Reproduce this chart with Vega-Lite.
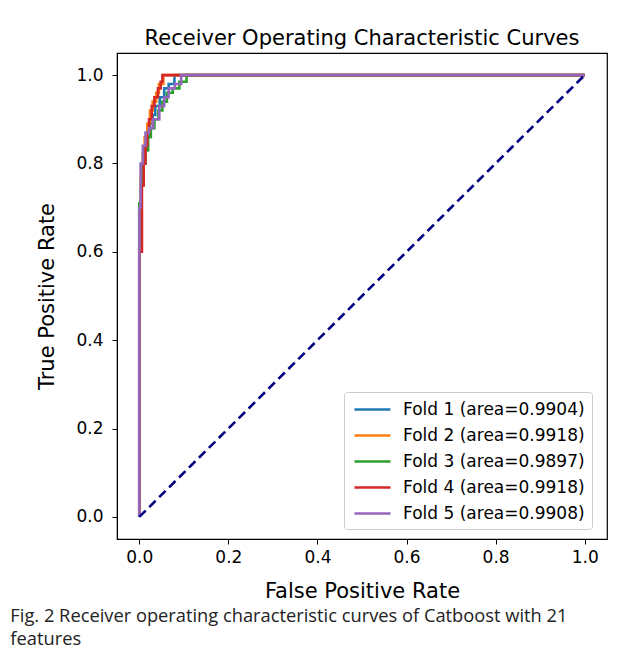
{
  "$schema": "https://vega.github.io/schema/vega-lite/v6.json",
  "background": "white",
  "padding": {"left": 10, "top": 27, "right": 10, "bottom": 10},
  "title": {
    "text": ["Fig. 2  Receiver operating characteristic curves of Catboost with 21", "features"],
    "orient": "bottom",
    "anchor": "start",
    "frame": "bounds",
    "dx": -26,
    "offset": 6,
    "font": "Open Sans",
    "fontSize": 18.3,
    "fontWeight": "normal",
    "color": "#222",
    "lineHeight": 23
  },
  "datasets": {
    "roc": [
      {"fold": "Fold 1 (area=0.9904)", "i": 0, "fpr": 0, "tpr": 0},
      {"fold": "Fold 1 (area=0.9904)", "i": 1, "fpr": 0, "tpr": 0.70},
      {"fold": "Fold 1 (area=0.9904)", "i": 2, "fpr": 0.004, "tpr": 0.70},
      {"fold": "Fold 1 (area=0.9904)", "i": 3, "fpr": 0.004, "tpr": 0.76},
      {"fold": "Fold 1 (area=0.9904)", "i": 4, "fpr": 0.008, "tpr": 0.76},
      {"fold": "Fold 1 (area=0.9904)", "i": 5, "fpr": 0.008, "tpr": 0.80},
      {"fold": "Fold 1 (area=0.9904)", "i": 6, "fpr": 0.012, "tpr": 0.80},
      {"fold": "Fold 1 (area=0.9904)", "i": 7, "fpr": 0.012, "tpr": 0.83},
      {"fold": "Fold 1 (area=0.9904)", "i": 8, "fpr": 0.018, "tpr": 0.83},
      {"fold": "Fold 1 (area=0.9904)", "i": 9, "fpr": 0.018, "tpr": 0.86},
      {"fold": "Fold 1 (area=0.9904)", "i": 10, "fpr": 0.024, "tpr": 0.86},
      {"fold": "Fold 1 (area=0.9904)", "i": 11, "fpr": 0.024, "tpr": 0.89},
      {"fold": "Fold 1 (area=0.9904)", "i": 12, "fpr": 0.030, "tpr": 0.89},
      {"fold": "Fold 1 (area=0.9904)", "i": 13, "fpr": 0.030, "tpr": 0.91},
      {"fold": "Fold 1 (area=0.9904)", "i": 14, "fpr": 0.036, "tpr": 0.91},
      {"fold": "Fold 1 (area=0.9904)", "i": 15, "fpr": 0.036, "tpr": 0.93},
      {"fold": "Fold 1 (area=0.9904)", "i": 16, "fpr": 0.046, "tpr": 0.93},
      {"fold": "Fold 1 (area=0.9904)", "i": 17, "fpr": 0.046, "tpr": 0.95},
      {"fold": "Fold 1 (area=0.9904)", "i": 18, "fpr": 0.056, "tpr": 0.95},
      {"fold": "Fold 1 (area=0.9904)", "i": 19, "fpr": 0.056, "tpr": 0.97},
      {"fold": "Fold 1 (area=0.9904)", "i": 20, "fpr": 0.066, "tpr": 0.97},
      {"fold": "Fold 1 (area=0.9904)", "i": 21, "fpr": 0.066, "tpr": 0.98},
      {"fold": "Fold 1 (area=0.9904)", "i": 22, "fpr": 0.079, "tpr": 0.98},
      {"fold": "Fold 1 (area=0.9904)", "i": 23, "fpr": 0.079, "tpr": 1.0},
      {"fold": "Fold 1 (area=0.9904)", "i": 24, "fpr": 1.0, "tpr": 1.0},

      {"fold": "Fold 2 (area=0.9918)", "i": 0, "fpr": 0, "tpr": 0},
      {"fold": "Fold 2 (area=0.9918)", "i": 1, "fpr": 0, "tpr": 0.70},
      {"fold": "Fold 2 (area=0.9918)", "i": 2, "fpr": 0.004, "tpr": 0.70},
      {"fold": "Fold 2 (area=0.9918)", "i": 3, "fpr": 0.004, "tpr": 0.78},
      {"fold": "Fold 2 (area=0.9918)", "i": 4, "fpr": 0.008, "tpr": 0.78},
      {"fold": "Fold 2 (area=0.9918)", "i": 5, "fpr": 0.008, "tpr": 0.82},
      {"fold": "Fold 2 (area=0.9918)", "i": 6, "fpr": 0.012, "tpr": 0.82},
      {"fold": "Fold 2 (area=0.9918)", "i": 7, "fpr": 0.012, "tpr": 0.86},
      {"fold": "Fold 2 (area=0.9918)", "i": 8, "fpr": 0.018, "tpr": 0.86},
      {"fold": "Fold 2 (area=0.9918)", "i": 9, "fpr": 0.018, "tpr": 0.89},
      {"fold": "Fold 2 (area=0.9918)", "i": 10, "fpr": 0.024, "tpr": 0.89},
      {"fold": "Fold 2 (area=0.9918)", "i": 11, "fpr": 0.024, "tpr": 0.92},
      {"fold": "Fold 2 (area=0.9918)", "i": 12, "fpr": 0.030, "tpr": 0.92},
      {"fold": "Fold 2 (area=0.9918)", "i": 13, "fpr": 0.030, "tpr": 0.94},
      {"fold": "Fold 2 (area=0.9918)", "i": 14, "fpr": 0.038, "tpr": 0.94},
      {"fold": "Fold 2 (area=0.9918)", "i": 15, "fpr": 0.038, "tpr": 0.96},
      {"fold": "Fold 2 (area=0.9918)", "i": 16, "fpr": 0.044, "tpr": 0.96},
      {"fold": "Fold 2 (area=0.9918)", "i": 17, "fpr": 0.044, "tpr": 0.98},
      {"fold": "Fold 2 (area=0.9918)", "i": 18, "fpr": 0.054, "tpr": 0.98},
      {"fold": "Fold 2 (area=0.9918)", "i": 19, "fpr": 0.054, "tpr": 1.0},
      {"fold": "Fold 2 (area=0.9918)", "i": 20, "fpr": 1.0, "tpr": 1.0},

      {"fold": "Fold 3 (area=0.9897)", "i": 0, "fpr": 0, "tpr": 0},
      {"fold": "Fold 3 (area=0.9897)", "i": 1, "fpr": 0, "tpr": 0.71},
      {"fold": "Fold 3 (area=0.9897)", "i": 2, "fpr": 0.004, "tpr": 0.71},
      {"fold": "Fold 3 (area=0.9897)", "i": 3, "fpr": 0.004, "tpr": 0.75},
      {"fold": "Fold 3 (area=0.9897)", "i": 4, "fpr": 0.008, "tpr": 0.75},
      {"fold": "Fold 3 (area=0.9897)", "i": 5, "fpr": 0.008, "tpr": 0.80},
      {"fold": "Fold 3 (area=0.9897)", "i": 6, "fpr": 0.014, "tpr": 0.80},
      {"fold": "Fold 3 (area=0.9897)", "i": 7, "fpr": 0.014, "tpr": 0.83},
      {"fold": "Fold 3 (area=0.9897)", "i": 8, "fpr": 0.020, "tpr": 0.83},
      {"fold": "Fold 3 (area=0.9897)", "i": 9, "fpr": 0.020, "tpr": 0.86},
      {"fold": "Fold 3 (area=0.9897)", "i": 10, "fpr": 0.026, "tpr": 0.86},
      {"fold": "Fold 3 (area=0.9897)", "i": 11, "fpr": 0.026, "tpr": 0.88},
      {"fold": "Fold 3 (area=0.9897)", "i": 12, "fpr": 0.034, "tpr": 0.88},
      {"fold": "Fold 3 (area=0.9897)", "i": 13, "fpr": 0.034, "tpr": 0.90},
      {"fold": "Fold 3 (area=0.9897)", "i": 14, "fpr": 0.043, "tpr": 0.90},
      {"fold": "Fold 3 (area=0.9897)", "i": 15, "fpr": 0.043, "tpr": 0.92},
      {"fold": "Fold 3 (area=0.9897)", "i": 16, "fpr": 0.052, "tpr": 0.92},
      {"fold": "Fold 3 (area=0.9897)", "i": 17, "fpr": 0.052, "tpr": 0.94},
      {"fold": "Fold 3 (area=0.9897)", "i": 18, "fpr": 0.062, "tpr": 0.94},
      {"fold": "Fold 3 (area=0.9897)", "i": 19, "fpr": 0.062, "tpr": 0.96},
      {"fold": "Fold 3 (area=0.9897)", "i": 20, "fpr": 0.075, "tpr": 0.96},
      {"fold": "Fold 3 (area=0.9897)", "i": 21, "fpr": 0.075, "tpr": 0.97},
      {"fold": "Fold 3 (area=0.9897)", "i": 22, "fpr": 0.090, "tpr": 0.97},
      {"fold": "Fold 3 (area=0.9897)", "i": 23, "fpr": 0.090, "tpr": 0.985},
      {"fold": "Fold 3 (area=0.9897)", "i": 24, "fpr": 0.106, "tpr": 0.985},
      {"fold": "Fold 3 (area=0.9897)", "i": 25, "fpr": 0.106, "tpr": 1.0},
      {"fold": "Fold 3 (area=0.9897)", "i": 26, "fpr": 1.0, "tpr": 1.0},

      {"fold": "Fold 4 (area=0.9918)", "i": 0, "fpr": 0, "tpr": 0},
      {"fold": "Fold 4 (area=0.9918)", "i": 1, "fpr": 0, "tpr": 0.60},
      {"fold": "Fold 4 (area=0.9918)", "i": 2, "fpr": 0.006, "tpr": 0.60},
      {"fold": "Fold 4 (area=0.9918)", "i": 3, "fpr": 0.006, "tpr": 0.75},
      {"fold": "Fold 4 (area=0.9918)", "i": 4, "fpr": 0.010, "tpr": 0.75},
      {"fold": "Fold 4 (area=0.9918)", "i": 5, "fpr": 0.010, "tpr": 0.80},
      {"fold": "Fold 4 (area=0.9918)", "i": 6, "fpr": 0.014, "tpr": 0.80},
      {"fold": "Fold 4 (area=0.9918)", "i": 7, "fpr": 0.014, "tpr": 0.84},
      {"fold": "Fold 4 (area=0.9918)", "i": 8, "fpr": 0.018, "tpr": 0.84},
      {"fold": "Fold 4 (area=0.9918)", "i": 9, "fpr": 0.018, "tpr": 0.87},
      {"fold": "Fold 4 (area=0.9918)", "i": 10, "fpr": 0.022, "tpr": 0.87},
      {"fold": "Fold 4 (area=0.9918)", "i": 11, "fpr": 0.022, "tpr": 0.90},
      {"fold": "Fold 4 (area=0.9918)", "i": 12, "fpr": 0.028, "tpr": 0.90},
      {"fold": "Fold 4 (area=0.9918)", "i": 13, "fpr": 0.028, "tpr": 0.93},
      {"fold": "Fold 4 (area=0.9918)", "i": 14, "fpr": 0.034, "tpr": 0.93},
      {"fold": "Fold 4 (area=0.9918)", "i": 15, "fpr": 0.034, "tpr": 0.95},
      {"fold": "Fold 4 (area=0.9918)", "i": 16, "fpr": 0.042, "tpr": 0.95},
      {"fold": "Fold 4 (area=0.9918)", "i": 17, "fpr": 0.042, "tpr": 0.97},
      {"fold": "Fold 4 (area=0.9918)", "i": 18, "fpr": 0.048, "tpr": 0.97},
      {"fold": "Fold 4 (area=0.9918)", "i": 19, "fpr": 0.048, "tpr": 0.985},
      {"fold": "Fold 4 (area=0.9918)", "i": 20, "fpr": 0.052, "tpr": 0.985},
      {"fold": "Fold 4 (area=0.9918)", "i": 21, "fpr": 0.052, "tpr": 1.0},
      {"fold": "Fold 4 (area=0.9918)", "i": 22, "fpr": 1.0, "tpr": 1.0},

      {"fold": "Fold 5 (area=0.9908)", "i": 0, "fpr": 0, "tpr": 0},
      {"fold": "Fold 5 (area=0.9908)", "i": 1, "fpr": 0, "tpr": 0.70},
      {"fold": "Fold 5 (area=0.9908)", "i": 2, "fpr": 0.003, "tpr": 0.70},
      {"fold": "Fold 5 (area=0.9908)", "i": 3, "fpr": 0.003, "tpr": 0.80},
      {"fold": "Fold 5 (area=0.9908)", "i": 4, "fpr": 0.008, "tpr": 0.80},
      {"fold": "Fold 5 (area=0.9908)", "i": 5, "fpr": 0.008, "tpr": 0.84},
      {"fold": "Fold 5 (area=0.9908)", "i": 6, "fpr": 0.014, "tpr": 0.84},
      {"fold": "Fold 5 (area=0.9908)", "i": 7, "fpr": 0.014, "tpr": 0.87},
      {"fold": "Fold 5 (area=0.9908)", "i": 8, "fpr": 0.022, "tpr": 0.87},
      {"fold": "Fold 5 (area=0.9908)", "i": 9, "fpr": 0.022, "tpr": 0.88},
      {"fold": "Fold 5 (area=0.9908)", "i": 10, "fpr": 0.031, "tpr": 0.88},
      {"fold": "Fold 5 (area=0.9908)", "i": 11, "fpr": 0.031, "tpr": 0.90},
      {"fold": "Fold 5 (area=0.9908)", "i": 12, "fpr": 0.045, "tpr": 0.90},
      {"fold": "Fold 5 (area=0.9908)", "i": 13, "fpr": 0.045, "tpr": 0.93},
      {"fold": "Fold 5 (area=0.9908)", "i": 14, "fpr": 0.056, "tpr": 0.93},
      {"fold": "Fold 5 (area=0.9908)", "i": 15, "fpr": 0.056, "tpr": 0.95},
      {"fold": "Fold 5 (area=0.9908)", "i": 16, "fpr": 0.066, "tpr": 0.95},
      {"fold": "Fold 5 (area=0.9908)", "i": 17, "fpr": 0.066, "tpr": 0.97},
      {"fold": "Fold 5 (area=0.9908)", "i": 18, "fpr": 0.080, "tpr": 0.97},
      {"fold": "Fold 5 (area=0.9908)", "i": 19, "fpr": 0.080, "tpr": 0.98},
      {"fold": "Fold 5 (area=0.9908)", "i": 20, "fpr": 0.094, "tpr": 0.98},
      {"fold": "Fold 5 (area=0.9908)", "i": 21, "fpr": 0.094, "tpr": 1.0},
      {"fold": "Fold 5 (area=0.9908)", "i": 22, "fpr": 1.0, "tpr": 1.0}
    ],
    "diag": [
      {"i": 0, "fpr": 0, "tpr": 0},
      {"i": 1, "fpr": 1, "tpr": 1}
    ]
  },
  "vconcat": [
    {
      "width": 490,
      "height": 486,
      "title": {
        "text": "Receiver Operating Characteristic Curves",
        "font": "DejaVu Sans",
        "fontSize": 21,
        "fontWeight": "normal",
        "color": "#000",
        "offset": 4
      },
      "layer": [
        {
          "data": {"name": "roc"},
          "mark": {"type": "line", "strokeWidth": 2.6, "clip": true},
          "encoding": {
            "x": {
              "field": "fpr",
              "type": "quantitative",
              "scale": {"domain": [-0.05, 1.05], "nice": false, "zero": false},
              "axis": {"values": [0, 0.2, 0.4, 0.6, 0.8, 1.0], "format": ".1f", "title": "False Positive Rate"}
            },
            "y": {
              "field": "tpr",
              "type": "quantitative",
              "scale": {"domain": [-0.05, 1.05], "nice": false, "zero": false},
              "axis": {"values": [0, 0.2, 0.4, 0.6, 0.8, 1.0], "format": ".1f", "title": "True Positive Rate"}
            },
            "color": {
              "field": "fold",
              "type": "nominal",
              "scale": {
                "domain": ["Fold 1 (area=0.9904)", "Fold 2 (area=0.9918)", "Fold 3 (area=0.9897)", "Fold 4 (area=0.9918)", "Fold 5 (area=0.9908)"],
                "range": ["#1f77b4", "#ff7f0e", "#2ca02c", "#d62728", "#9467bd"]
              },
              "legend": {
                "title": null,
                "orient": "none",
                "legendX": 227,
                "legendY": 339,
                "symbolType": "M-2,0H2",
                "symbolSize": 324,
                "symbolOffset": 11,
                "symbolStrokeWidth": 2.6,
                "labelFont": "DejaVu Sans",
                "labelFontSize": 17,
                "labelColor": "#000",
                "labelLimit": 300,
                "labelOffset": 20,
                "rowPadding": 7,
                "padding": 7,
                "strokeColor": "#cccccc",
                "cornerRadius": 3,
                "fillColor": "white"
              }
            },
            "order": {"field": "i", "type": "quantitative"}
          }
        },
        {
          "data": {"name": "diag"},
          "mark": {"type": "line", "color": "#000080", "strokeWidth": 2.6, "strokeDash": [9, 5]},
          "encoding": {
            "x": {"field": "fpr", "type": "quantitative"},
            "y": {"field": "tpr", "type": "quantitative"},
            "order": {"field": "i", "type": "quantitative"}
          }
        }
      ]
    }
  ],
  "config": {
    "view": {"stroke": "#000", "strokeWidth": 1.2},
    "axis": {
      "grid": false,
      "domainColor": "#000",
      "tickColor": "#000",
      "tickSize": 5,
      "labelFont": "DejaVu Sans",
      "labelFontSize": 17,
      "labelColor": "#000",
      "titleFont": "DejaVu Sans",
      "titleFontSize": 21,
      "titleFontWeight": "normal",
      "titleColor": "#000"
    },
    "axisX": {"titlePadding": 15, "labelPadding": 5},
    "axisY": {"titlePadding": 18, "labelPadding": 9}
  }
}
